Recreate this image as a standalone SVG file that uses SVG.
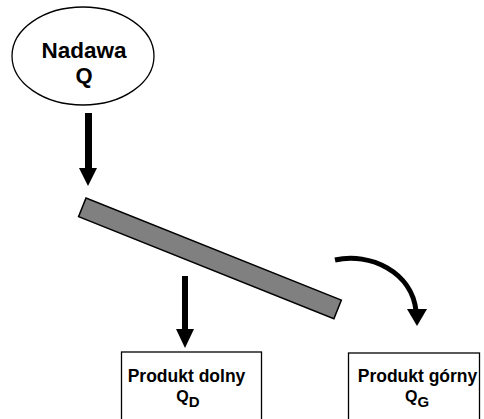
<svg xmlns="http://www.w3.org/2000/svg" width="484" height="419" viewBox="0 0 484 419">
<style>
text{font-family:"Liberation Sans",Arial,sans-serif;font-weight:bold;fill:#000}
.node{fill:#fff;stroke:#000;stroke-width:1.3}
.arrow{fill:#000;stroke:none}
</style>
<rect width="484" height="419" fill="#fff"/>
<g id="nadawa">
<ellipse class="node" cx="83" cy="56" rx="71" ry="49"/>
<text x="84" y="58" font-size="22.5" text-anchor="middle">Nadawa</text>
<text x="84" y="83" font-size="22" text-anchor="middle">Q</text>
</g>
<g id="sito">
<rect x="0" y="0" width="275" height="20" fill="#808080" stroke="#000" stroke-width="1.5" transform="translate(86,198) rotate(21.8)"/>
</g>
<g id="produkt-dolny">
<rect class="node" x="121.5" y="352" width="140" height="80"/>
<text x="186.5" y="382" font-size="17.5" text-anchor="middle">Produkt dolny</text>
<text x="188" y="402" font-size="16" text-anchor="middle">Q<tspan font-size="15" dy="5">D</tspan></text>
</g>
<g id="produkt-gorny">
<rect class="node" x="348.5" y="353" width="131" height="80"/>
<text x="417.5" y="382" font-size="17.5" text-anchor="middle">Produkt górny</text>
<text x="417" y="402" font-size="16" text-anchor="middle">Q<tspan font-size="15" dy="5">G</tspan></text>
</g>
<g id="connectors">
<rect class="arrow" x="85" y="113" width="7" height="56"/>
<polygon class="arrow" points="79,168 97,168 88,186"/>
<rect class="arrow" x="182" y="276" width="6" height="54"/>
<polygon class="arrow" points="176,329 194,329 185,348"/>
<path d="M335,260 C370,252 412,272 416,311" fill="none" stroke="#000" stroke-width="5"/>
<polygon class="arrow" points="407,309 427,309 417,326"/>
</g>
</svg>
